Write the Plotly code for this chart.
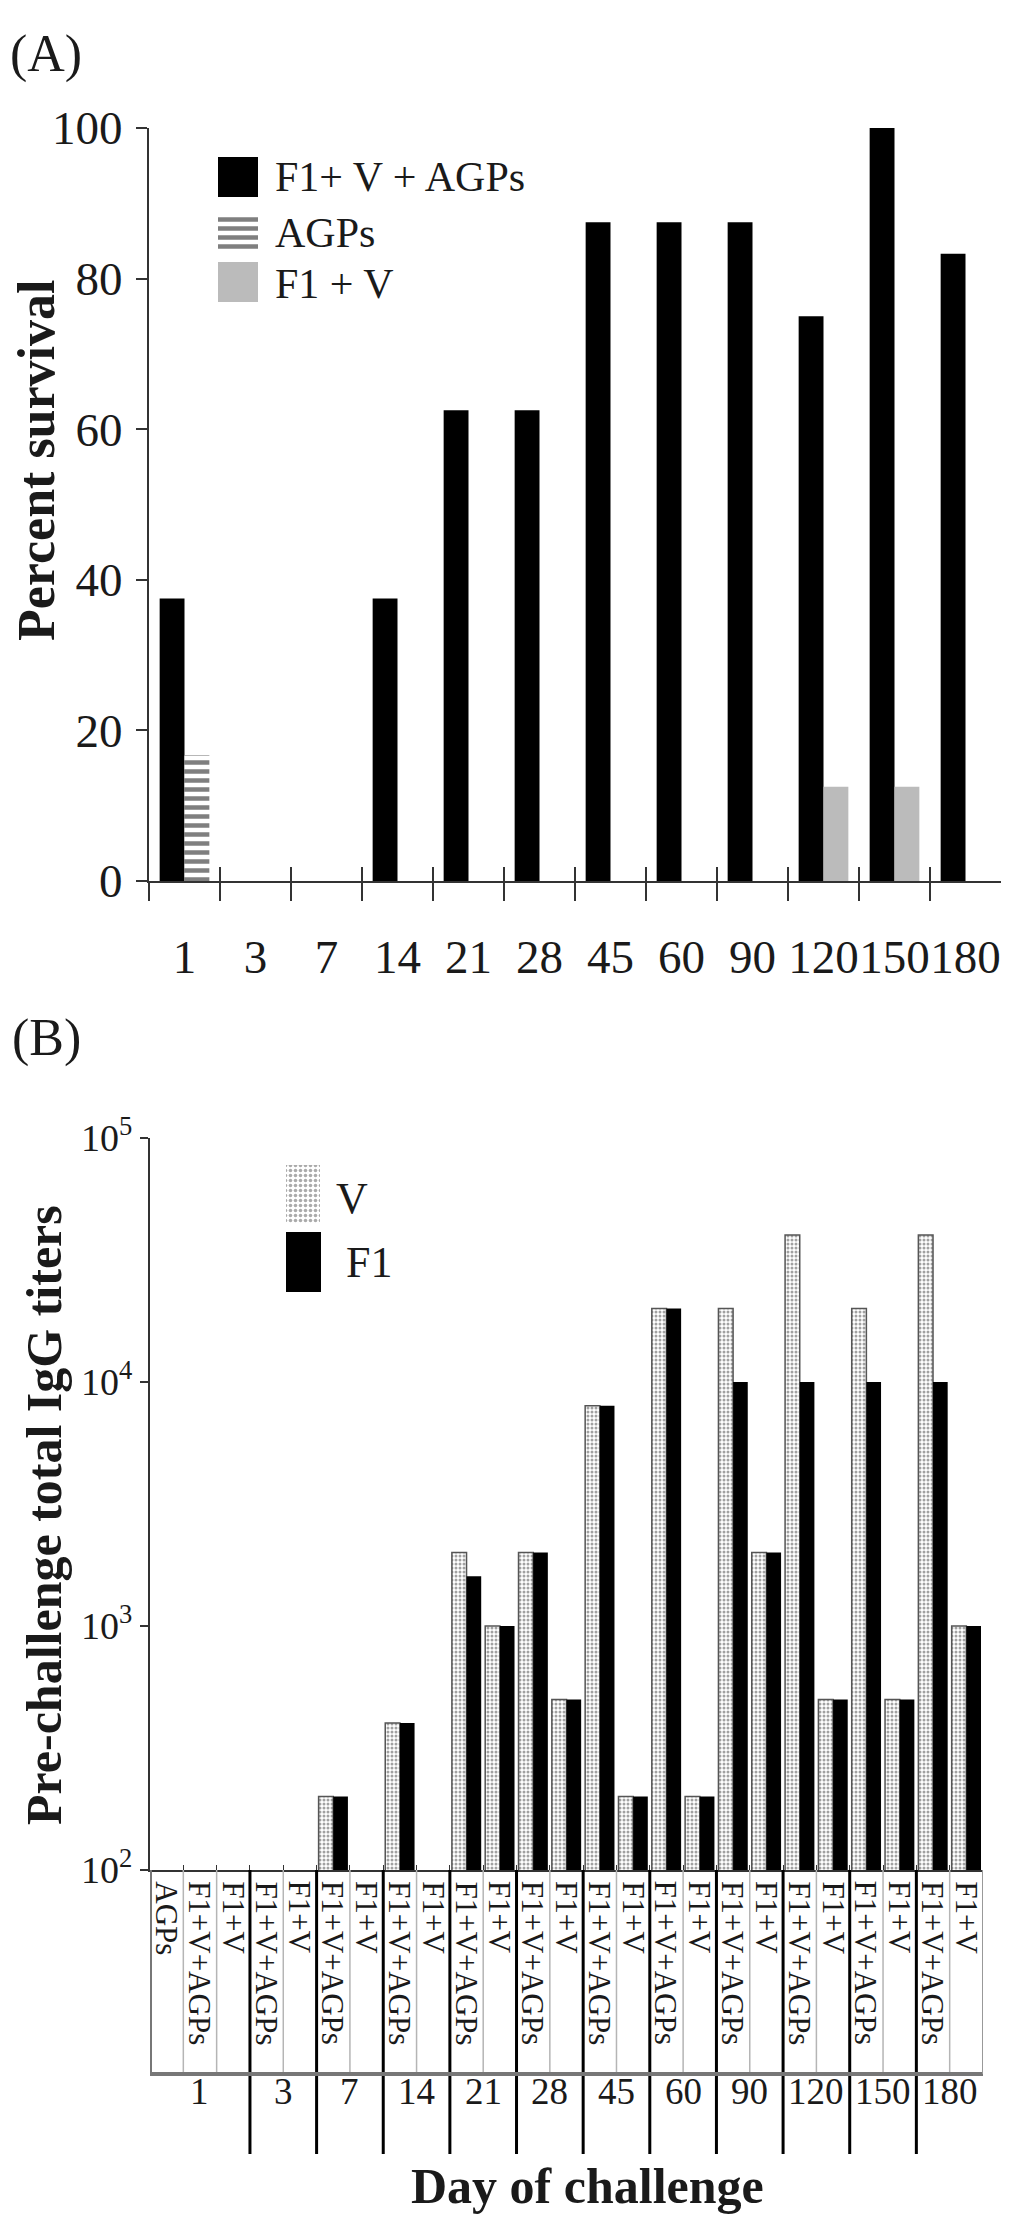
import plotly.graph_objects as go
import numpy as np

W, H = 1009, 2226          # page size
PAD = 8                    # default body margin of the html page
FW, FH = W - 2 * PAD, H - 2 * PAD
FONT = 'Liberation Serif'
INK = '#1a1a1a'

# ---- Panel A : percent survival by day of challenge ----
days = ['1', '3', '7', '14', '21', '28', '45', '60', '90', '120', '150', '180']
surv_f1v_agps = [37.5, 0, 0, 37.5, 62.5, 62.5, 87.5, 87.5, 87.5, 75, 100, 83.3]
surv_agps = [16.7, None, None, None, None, None, None, None, None, None, None, None]
surv_f1v = [0, 0, 0, 0, 0, 0, 0, 0, 0, 12.5, 12.5, 0]

# ---- Panel B : pre-challenge IgG titers per group ----
b_days = ['1', '1', '1', '3', '3', '7', '7', '14', '14', '21', '21', '28', '28',
          '45', '45', '60', '60', '90', '90', '120', '120', '150', '150', '180', '180']
b_groups = ['AGPs', 'F1+V+AGPs', 'F1+V', 'F1+V+AGPs', 'F1+V', 'F1+V+AGPs', 'F1+V',
            'F1+V+AGPs', 'F1+V', 'F1+V+AGPs', 'F1+V', 'F1+V+AGPs', 'F1+V',
            'F1+V+AGPs', 'F1+V', 'F1+V+AGPs', 'F1+V', 'F1+V+AGPs', 'F1+V',
            'F1+V+AGPs', 'F1+V', 'F1+V+AGPs', 'F1+V', 'F1+V+AGPs', 'F1+V']
titer_v = [None, None, None, None, None, 200, None, 400, None, 2000, 1000, 2000, 500,
           8000, 200, 20000, 200, 20000, 2000, 40000, 500, 20000, 500, 40000, 1000]
titer_f1 = [None, None, None, None, None, 200, None, 400, None, 1600, 1000, 2000, 500,
            8000, 200, 20000, 200, 10000, 2000, 10000, 500, 10000, 500, 10000, 1000]
titer_ticks = [100, 1000, 10000, 100000]
titer_ticktext = ['10<sup>2</sup>', '10<sup>3</sup>', '10<sup>4</sup>', '10<sup>5</sup>']

b_keys = [f'{d}:{g}' for d, g in zip(b_days, b_groups)]


def fx(px):  # page pixel -> paper
    return (px - PAD) / FW


def fy(py):
    return 1 - (py - PAD) / FH


fig = go.Figure()

# Panel A bars
fig.add_trace(go.Bar(x=days, y=surv_f1v_agps, name='F1+ V + AGPs', xaxis='x', yaxis='y',
                     offset=-0.35, width=0.35, marker=dict(color='black', line=dict(width=0))))
fig.add_trace(go.Bar(x=days, y=surv_agps, name='AGPs', xaxis='x', yaxis='y',
                     offset=0, width=0.35,
                     marker=dict(color='white', line=dict(width=0),
                                 pattern=dict(shape='-', fgcolor='black', bgcolor='white',
                                              size=9, solidity=0.5))))
fig.add_trace(go.Bar(x=days, y=surv_f1v, name='F1 + V', xaxis='x', yaxis='y',
                     offset=0, width=0.35, marker=dict(color='#bbbbbb', line=dict(width=0))))

# crossing ticks on panel A x axis (two overlay axes)
bounds = (np.arange(len(days)) - 0.5).tolist()
for ax in ('x3', 'x4'):
    fig.add_trace(go.Scatter(x=[None], y=[None], xaxis=ax, yaxis='y', showlegend=False,
                             hoverinfo='skip'))

# Panel B bars
fig.add_trace(go.Bar(x=b_keys, y=titer_v, name='V', xaxis='x2', yaxis='y2',
                     offset=-0.44, width=0.44,
                     marker=dict(color='white', line=dict(width=1.5, color='#555'),
                                 pattern=dict(shape='.', fgcolor='#444', bgcolor='white',
                                              size=4, solidity=0.45))))
fig.add_trace(go.Bar(x=b_keys, y=titer_f1, name='F1', xaxis='x2', yaxis='y2',
                     offset=0, width=0.44, marker=dict(color='black', line=dict(width=0))))


# hand drawn legends (big patches) on a pixel overlay
def rect(x0, y0, x1, y1):
    return [x0, x1, x1, x0, x0], [y0, y0, y1, y1, y0]


legend_patches = [
    (rect(218, 157, 258, 197), dict(fillcolor='black')),
    (rect(218, 216, 258, 253), dict(fillcolor='white',
                                    fillpattern=dict(shape='-', fgcolor='black', bgcolor='white',
                                                     size=9, solidity=0.5))),
    (rect(218, 262, 258, 302), dict(fillcolor='#bbbbbb')),
    (rect(286, 1165, 320, 1223), dict(fillcolor='white',
                                      fillpattern=dict(shape='.', fgcolor='#555', bgcolor='white',
                                                       size=5, solidity=0.4))),
    (rect(286, 1232, 321, 1292), dict(fillcolor='black')),
]
for (xs, ys), style in legend_patches:
    fig.add_trace(go.Scatter(x=xs, y=ys, xaxis='x5', yaxis='y3', mode='lines', fill='toself',
                             line=dict(width=0), showlegend=False, hoverinfo='skip', **style))

tickfont = dict(family=FONT, size=47, color=INK)
fig.update_layout(
    width=FW, height=FH, autosize=False,
    margin=dict(l=0, r=0, t=0, b=0, autoexpand=False),
    paper_bgcolor='white', plot_bgcolor='rgba(0,0,0,0)',
    barmode='overlay', showlegend=False,
    xaxis=dict(domain=[fx(149), fx(1001)], anchor='y', type='category', automargin=False,
               categoryorder='array', categoryarray=days, range=[-0.5, 11.5],
               showline=True, linecolor='#333', linewidth=2, ticks='', tickangle=0,
               tickfont=tickfont, ticklabelstandoff=34, showgrid=False, zeroline=False),
    xaxis3=dict(overlaying='x', anchor='y', range=[-0.5, 11.5], tickvals=bounds,
                automargin=False,
                ticks='outside', ticklen=19, tickwidth=1.5, tickcolor='#333',
                showticklabels=False, showline=False, showgrid=False, zeroline=False),
    xaxis4=dict(overlaying='x', anchor='y', range=[-0.5, 11.5], tickvals=bounds,
                automargin=False,
                ticks='inside', ticklen=14, tickwidth=1.5, tickcolor='#333',
                showticklabels=False, showline=False, showgrid=False, zeroline=False),
    yaxis=dict(domain=[fy(881), fy(128)], anchor='x', range=[0, 100], automargin=False,
               tickvals=[0, 20, 40, 60, 80, 100], ticks='outside', ticklen=11,
               tickwidth=1.5, tickcolor='#333', showline=True, linecolor='#333',
               linewidth=2, tickfont=tickfont, ticklabelstandoff=4,
               showgrid=False, zeroline=False),
    xaxis2=dict(domain=[fx(150), fx(983)], anchor='y2', type='category', automargin=False,
                categoryorder='array', categoryarray=b_keys, range=[-0.5, len(b_keys) - 0.5],
                showline=True, linecolor='#333', linewidth=2, ticks='inside',
                tickson='boundaries', ticklen=5, tickcolor='#333', showticklabels=False,
                showgrid=False, zeroline=False),
    yaxis2=dict(domain=[fy(1870), fy(1138)], anchor='x2', type='log', range=[2, 5],
                automargin=False,
                tickvals=titer_ticks, ticktext=titer_ticktext, ticks='outside', ticklen=8,
                tickwidth=1.5, tickcolor='#333', showline=True, linecolor='#333',
                linewidth=2, tickfont=dict(family=FONT, size=38, color=INK),
                showgrid=False, zeroline=False),
    xaxis5=dict(domain=[0, 1], anchor='y3', range=[PAD, W - PAD], visible=False,
                fixedrange=True, automargin=False),
    yaxis3=dict(domain=[0, 1], anchor='x5', range=[H - PAD, PAD], visible=False,
                fixedrange=True, automargin=False),
)

ann = []


def text(x, y, s, size, bold=False, angle=0, **kw):
    a = dict(x=fx(x), y=fy(y), xref='paper', yref='paper', text=s, showarrow=False,
             textangle=angle, xanchor='center', yanchor='middle',
             font=dict(family=FONT, size=size, color=INK, weight='bold' if bold else 'normal'))
    a.update(kw)
    ann.append(a)


text(46, 54, '(A)', 52)
text(46, 1038, '(B)', 52)
text(37, 460, 'Percent survival', 52, bold=True, angle=-90)
text(44, 1515, 'Pre-challenge total IgG titers', 50, bold=True, angle=-90)
text(587, 2186, 'Day of challenge', 50, bold=True)

# legend labels
text(273, 177, 'F1+ V + AGPs', 42, xanchor='left')
text(273, 233, 'AGPs', 42, xanchor='left')
text(273, 284, 'F1 + V', 42, xanchor='left')
text(334, 1198, 'V', 44, xanchor='left')
text(344, 1262, 'F1', 44, xanchor='left')

# group labels in the table under panel B
for key, grp in zip(b_keys, b_groups):
    ann.append(dict(x=key, y=fy(1879), xref='x2', yref='paper', text=grp, showarrow=False,
                    textangle=90, xanchor='center', yanchor='top',
                    font=dict(family=FONT, size=31, color=INK)))

# day labels and separators
shapes = []
table_top, table_bot, sep_bot = fy(1870), fy(2074), fy(2154)
order = []
for d in b_days:
    if d not in order:
        order.append(d)
for d in order:
    idx = [i for i, v in enumerate(b_days) if v == d]
    ann.append(dict(x=float(np.mean(idx)), y=fy(2114), xref='x2', yref='paper', text=d,
                    showarrow=False, font=dict(family=FONT, size=37, color=INK)))
for i in range(1, len(b_days)):
    if b_days[i] != b_days[i - 1]:
        shapes.append(dict(type='line', xref='x2', yref='paper', x0=i - 0.5, x1=i - 0.5,
                           y0=table_top, y1=sep_bot, line=dict(color='black', width=3)))
    else:
        shapes.append(dict(type='line', xref='x2', yref='paper', x0=i - 0.5, x1=i - 0.5,
                           y0=table_top, y1=table_bot, line=dict(color='#b5b5b5', width=1.5)))
# table box
n = len(b_keys)
shapes.append(dict(type='line', xref='x2', yref='paper', x0=-0.5, x1=-0.5,
                   y0=table_top, y1=table_bot, line=dict(color='#777', width=4)))
shapes.append(dict(type='line', xref='x2', yref='paper', x0=-0.5, x1=n - 0.5,
                   y0=table_bot, y1=table_bot, line=dict(color='#777', width=4)))
shapes.append(dict(type='line', xref='x2', yref='paper', x0=n - 0.5, x1=n - 0.5,
                   y0=table_top, y1=table_bot, line=dict(color='#999', width=2)))

fig.update_layout(annotations=ann, shapes=shapes)

fig.write_html('out.html')
